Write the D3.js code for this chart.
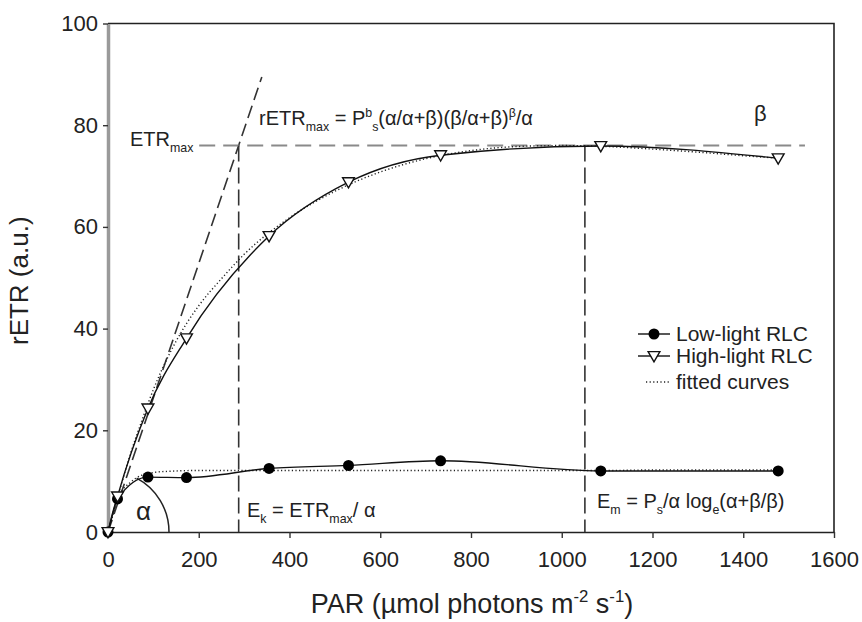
<!DOCTYPE html>
<html>
<head>
<meta charset="utf-8">
<script src="https://cdn.jsdelivr.net/npm/d3@7"></script>
<style>
  body { margin: 0; background: #fff; }
  svg { display: block; font-family: "Liberation Sans", Arial, sans-serif; }
</style>
</head>
<body>
<svg></svg>
<script>
// measured light steps of the two rapid light curves
const PAR = [0, 21, 88, 173, 355, 530, 733, 1086, 1477]
const LOW_LIGHT = [0, 6.5, 10.8, 10.7, 12.5, 13.1, 14.0, 12.0, 12.0]
const HIGH_LIGHT = [0, 7, 24.3, 38.1, 58.2, 68.8, 74.1, 75.9, 73.5]

// fitted curves
const FIT_PAR = [0, 25, 50, 75, 100, 150, 200, 250, 300, 400, 500, 600, 700, 800, 900, 1000, 1100, 1200, 1300, 1400, 1480]
const FIT_HIGH = [0, 8, 15.5, 22, 28, 37.5, 44.5, 49.8, 54.6, 61.8, 67, 70.8, 73.4, 75, 75.8, 76, 75.8, 75.3, 74.7, 74, 73.5]
const FIT_LOW = [0, 7.2, 9.8, 11.2, 11.7, 12, 12.1, 12.1, 12.1, 12.1, 12.1, 12.1, 12.1, 12.1, 12.1, 12.1, 12.1, 12.2, 12.2, 12.2, 12.2]

const X_TICKS = [0, 200, 400, 600, 800, 1000, 1200, 1400, 1600]
const Y_TICKS = [0, 20, 40, 60, 80, 100]

// guide lines
const ETR_MAX = 76
const ETR_MAX_SPAN = [201, 1536]
const EK = 288
const EM = 1051
const SLOPE_END = [339, 89.5]

const SVG_MEASURES = { width: 862, height: 622, left: 108, right: 834, top: 23.5, bottom: 532 }

const svg = d3.select('svg')
  .attr('width', SVG_MEASURES.width)
  .attr('height', SVG_MEASURES.height)

const xScale = d3.scaleLinear().domain([0, 1600]).range([SVG_MEASURES.left, SVG_MEASURES.right])
const yScale = d3.scaleLinear().domain([0, 100]).range([SVG_MEASURES.bottom, SVG_MEASURES.top])

// frame (top and right)
svg.append('path')
  .attr('d', `M${xScale(0)},${yScale(100)}H${xScale(1600)}V${yScale(0)}`)
  .attr('fill', 'none').attr('stroke', '#222').attr('stroke-width', 1.6)

// axes
const xAxis = svg.append('g')
  .attr('transform', `translate(0, ${yScale(0)})`)
  .call(d3.axisBottom(xScale).tickValues(X_TICKS).tickFormat(d3.format('d'))
    .tickSize(6).tickSizeOuter(0).tickPadding(13))
xAxis.select('.domain').attr('stroke', '#222').attr('stroke-width', 1.6)

const yAxis = svg.append('g')
  .attr('transform', `translate(${xScale(0)}, 0)`)
  .call(d3.axisLeft(yScale).tickValues(Y_TICKS).tickFormat(d3.format('d'))
    .tickSize(5).tickSizeOuter(0).tickPadding(5))
yAxis.select('.domain').attr('stroke', '#9a9a9a').attr('stroke-width', 3.5)

svg.selectAll('.tick line').attr('stroke', '#333').attr('stroke-width', 1.4)
svg.selectAll('.tick text').attr('font-size', 22).attr('fill', '#222')
  .attr('font-family', '"Liberation Sans", Arial, sans-serif')

// axis titles
const xTitle = svg.append('text')
  .attr('x', 472).attr('y', 613)
  .attr('text-anchor', 'middle')
  .attr('font-size', 27).attr('fill', '#222')
richParts(xTitle, [['PAR (\u00b5mol photons m'], ['-2', 'sup'], [' s'], ['-1', 'sup'], [')']], 27)

svg.append('text')
  .attr('transform', `translate(28, ${(yScale(0) + yScale(100)) / 2 + 3}) rotate(-90)`)
  .attr('text-anchor', 'middle')
  .attr('font-size', 26).attr('fill', '#222')
  .text('rETR (a.u.)')

// dashed guide lines
const guides = svg.append('g').attr('fill', 'none').attr('stroke-width', 1.6)

guides.append('line')
  .attr('x1', xScale(0)).attr('y1', yScale(0))
  .attr('x2', xScale(SLOPE_END[0])).attr('y2', yScale(SLOPE_END[1]))
  .attr('stroke', '#333').attr('stroke-dasharray', '13,6')

guides.append('line')
  .attr('x1', xScale(ETR_MAX_SPAN[0])).attr('y1', yScale(ETR_MAX))
  .attr('x2', xScale(ETR_MAX_SPAN[1])).attr('y2', yScale(ETR_MAX))
  .attr('stroke', '#8a8a8a').attr('stroke-width', 2).attr('stroke-dasharray', '16,8')

guides.selectAll('.vline')
  .data([EK, EM])
  .enter()
  .append('line')
  .attr('x1', d => xScale(d)).attr('x2', d => xScale(d))
  .attr('y1', yScale(ETR_MAX)).attr('y2', yScale(0))
  .attr('stroke', '#333').attr('stroke-dasharray', '16,6')

// alpha arc at the origin
const arcRadius = 61
const arcPath = d3.path()
const a0 = -62 * Math.PI / 180
arcPath.moveTo(xScale(0) + arcRadius * Math.cos(a0), yScale(0) + arcRadius * Math.sin(a0))
arcPath.arc(xScale(0), yScale(0), arcRadius, a0, 0, false)
svg.append('path').attr('d', arcPath.toString())
  .attr('fill', 'none').attr('stroke', '#222').attr('stroke-width', 1.5)

// fitted curves
const fitLine = d3.line().curve(d3.curveMonotoneX)
  .x((d, i) => xScale(FIT_PAR[i]))
  .y(d => yScale(d))

svg.selectAll('.fit')
  .data([FIT_HIGH, FIT_LOW])
  .enter()
  .append('path')
  .attr('d', fitLine)
  .attr('fill', 'none').attr('stroke', '#222').attr('stroke-width', 1.4)
  .attr('stroke-dasharray', '1.2,2.4')

// measured curves
const dataLine = d3.line().curve(d3.curveMonotoneX)
  .x((d, i) => xScale(PAR[i]))
  .y(d => yScale(d))

svg.selectAll('.series')
  .data([LOW_LIGHT, HIGH_LIGHT])
  .enter()
  .append('path')
  .attr('d', dataLine)
  .attr('fill', 'none').attr('stroke', '#111').attr('stroke-width', 1.4)

svg.selectAll('.low')
  .data(LOW_LIGHT)
  .enter()
  .append('circle')
  .attr('cx', (d, i) => xScale(PAR[i]))
  .attr('cy', d => yScale(d))
  .attr('r', 5.5)
  .attr('fill', '#000')

const triangle = d3.symbol().type(d3.symbolTriangle).size(60)
svg.selectAll('.high')
  .data(HIGH_LIGHT)
  .enter()
  .append('path')
  .attr('d', triangle)
  .attr('transform', (d, i) => `translate(${xScale(PAR[i])}, ${yScale(d) - 1}) rotate(180)`)
  .attr('fill', '#fff').attr('stroke', '#111').attr('stroke-width', 1.4)

// annotations
const notes = svg.append('g').attr('fill', '#222')

richParts(notes.append('text').attr('x', 130).attr('y', 146).attr('font-size', 20),
  [['ETR'], ['max', 'sub']], 20)

richParts(notes.append('text').attr('x', 259).attr('y', 125).attr('font-size', 20),
  [['rETR'], ['max', 'sub'], [' = P'], ['b', 'sup'], ['s', 'sub'], ['(\u03b1/\u03b1+\u03b2)(\u03b2/\u03b1+\u03b2)'], ['\u03b2', 'sup'], ['/\u03b1']], 20)

notes.append('text').attr('x', 754).attr('y', 121).attr('font-size', 22).text('\u03b2')

notes.append('text').attr('x', 136).attr('y', 520).attr('font-size', 26).text('\u03b1')

richParts(notes.append('text').attr('x', 247).attr('y', 517).attr('font-size', 20),
  [['E'], ['k', 'sub'], [' = ETR'], ['max', 'sub'], ['/ \u03b1']], 20)

richParts(notes.append('text').attr('x', 597).attr('y', 508).attr('font-size', 20),
  [['E'], ['m', 'sub'], [' = P'], ['s', 'sub'], ['/\u03b1 log'], ['e', 'sub'], ['(\u03b1+\u03b2/\u03b2)']], 20)

// legend
const LEGEND_LABELS = ['Low-light RLC', 'High-light RLC', 'fitted curves']
const legend = svg.append('g').attr('transform', 'translate(638, 0)')
const rowY = [334, 356, 382]

legend.selectAll('text')
  .data(LEGEND_LABELS)
  .enter()
  .append('text')
  .attr('x', 38).attr('y', (d, i) => rowY[i] + 7)
  .attr('font-size', 21).attr('fill', '#222')
  .text(d => d)

legend.append('line').attr('x1', 0).attr('x2', 32).attr('y1', rowY[0]).attr('y2', rowY[0]).attr('stroke', '#111').attr('stroke-width', 1.4)
legend.append('circle').attr('cx', 16).attr('cy', rowY[0]).attr('r', 5.5).attr('fill', '#000')
legend.append('line').attr('x1', 0).attr('x2', 32).attr('y1', rowY[1]).attr('y2', rowY[1]).attr('stroke', '#111').attr('stroke-width', 1.4)
legend.append('path').attr('d', triangle).attr('transform', `translate(16, ${rowY[1] - 1}) rotate(180)`)
  .attr('fill', '#fff').attr('stroke', '#111').attr('stroke-width', 1.4)
legend.append('line').attr('x1', 8).attr('x2', 32).attr('y1', rowY[2]).attr('y2', rowY[2])
  .attr('stroke', '#222').attr('stroke-width', 1.4).attr('stroke-dasharray', '1.2,2.4')

// text with sub- and superscripts
function richParts(textSel, parts, size) {
  let shift = 0
  parts.forEach(([str, kind]) => {
    const target = kind === 'sub' ? size * 0.3 : kind === 'sup' ? -size * 0.42 : 0
    textSel.append('tspan')
      .attr('dy', target - shift)
      .attr('font-size', kind ? size * 0.62 : size)
      .text(str)
    shift = target
  })
  return textSel
}
</script>
</body>
</html>
